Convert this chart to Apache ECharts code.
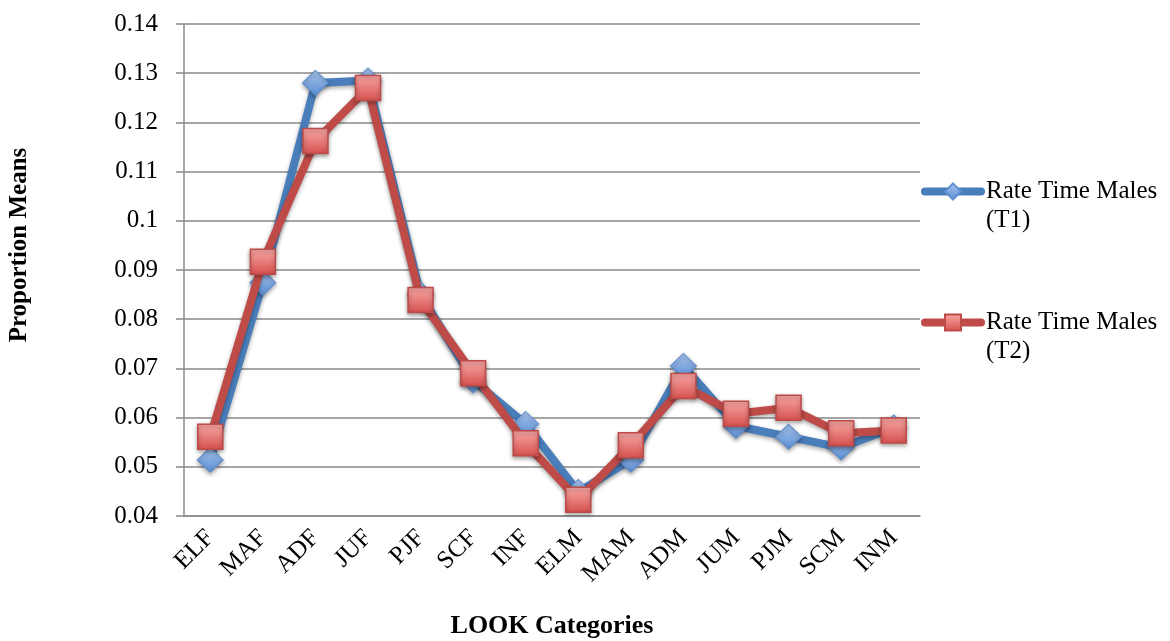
<!DOCTYPE html>
<html>
<head>
<meta charset="utf-8">
<script src="https://cdn.jsdelivr.net/npm/echarts@6/dist/echarts.min.js"></script>
<style>
  html, body { margin: 0; padding: 0; background: #fff; }
  #chart { width: 1170px; height: 641px; }
</style>
</head>
<body>
<div id="chart"></div>
<script>
// LOOK categories along the x axis
const categories = ['ELF', 'MAF', 'ADF', 'JUF', 'PJF', 'SCF', 'INF', 'ELM', 'MAM', 'ADM', 'JUM', 'PJM', 'SCM', 'INM'];

// Proportion means per category
const rateT1 = [0.0514, 0.0874, 0.1280, 0.1285, 0.0850, 0.0676, 0.0587, 0.0449, 0.0514, 0.0705, 0.0583, 0.0561, 0.0539, 0.0580];
const rateT2 = [0.0561, 0.0917, 0.1162, 0.1270, 0.0839, 0.0690, 0.0548, 0.0433, 0.0544, 0.0664, 0.0608, 0.0620, 0.0568, 0.0574];

const seriesNames = ['Rate Time Males (T1)', 'Rate Time Males (T2)'];

// y axis range
const yMin = 0.04, yMax = 0.14, yStep = 0.01;

const FONT = '"Liberation Serif", "Times New Roman", serif';
const GRID_GREY = '#8a8a8a';

const chart = echarts.init(document.getElementById('chart'), null, { renderer: 'canvas' });

const grad = (top, bottom) => new echarts.graphic.LinearGradient(0, 0, 0, 1, [
  { offset: 0, color: top },
  { offset: 1, color: bottom }
]);

chart.setOption({
  animation: false,
  backgroundColor: '#ffffff',
  grid: { left: 184, right: 250, top: 24, bottom: 125, containLabel: false, outerBoundsMode: 'none' },
  legend: {
    orient: 'vertical',
    left: 921,
    top: 148,
    padding: 0,
    itemGap: 44,
    itemWidth: 56,
    itemHeight: 20,
    data: seriesNames,
    lineStyle: { width: 8, cap: 'round' },
    // break the name onto two lines, keeping the icon level with the first line
    formatter: name => '\n' + name.replace(' (', '\n('),
    textStyle: { fontFamily: FONT, fontSize: 25, lineHeight: 29, color: '#000' }
  },
  xAxis: {
    type: 'category',
    data: categories,
    boundaryGap: true,
    name: 'LOOK Categories',
    nameLocation: 'middle',
    nameGap: 97,
    nameTextStyle: { fontFamily: FONT, fontSize: 26, fontWeight: 'bold', color: '#000' },
    axisLine: { show: true, lineStyle: { color: GRID_GREY, width: 1.5 } },
    axisTick: { show: false },
    axisLabel: { rotate: 45, margin: 18, fontFamily: FONT, fontSize: 25, color: '#000', interval: 0 }
  },
  yAxis: {
    type: 'value',
    min: yMin,
    max: yMax,
    interval: yStep,
    name: 'Proportion Means',
    nameLocation: 'middle',
    nameGap: 152,
    nameTextStyle: { fontFamily: FONT, fontSize: 25, fontWeight: 'bold', color: '#000', padding: [0, 0, 0, 50] },
    axisLine: { show: true, lineStyle: { color: GRID_GREY, width: 1.5 } },
    axisTick: { show: true, length: 8, lineStyle: { color: GRID_GREY, width: 1.5 } },
    splitLine: { show: true, lineStyle: { color: GRID_GREY, width: 1.5 } },
    axisLabel: {
      margin: 26,
      fontFamily: FONT,
      fontSize: 25,
      color: '#000',
      formatter: v => String(parseFloat(v.toFixed(2)))
    }
  },
  series: [
    {
      name: seriesNames[0],
      type: 'line',
      data: rateT1,
      symbol: 'diamond',
      symbolSize: [26, 25],
      z: 2,
      lineStyle: {
        color: '#4a7ebb', width: 8, cap: 'round', join: 'round',
        shadowColor: 'rgba(0,0,0,0.35)', shadowBlur: 4, shadowOffsetY: 2
      },
      itemStyle: {
        color: grad('#a9c6ee', '#5a8cd2'),
        borderColor: '#5f8fcf', borderWidth: 1,
        shadowColor: 'rgba(0,0,0,0.35)', shadowBlur: 4, shadowOffsetY: 2
      },
      emphasis: { disabled: true }
    },
    {
      name: seriesNames[1],
      type: 'line',
      data: rateT2,
      symbol: 'rect',
      symbolSize: 25,
      z: 3,
      lineStyle: {
        color: '#be4b48', width: 8, cap: 'round', join: 'round',
        shadowColor: 'rgba(0,0,0,0.35)', shadowBlur: 4, shadowOffsetY: 2
      },
      itemStyle: {
        color: grad('#f9a9a7', '#d5504d'),
        borderColor: '#be4b48', borderWidth: 1.5,
        shadowColor: 'rgba(0,0,0,0.35)', shadowBlur: 4, shadowOffsetY: 2
      },
      emphasis: { disabled: true }
    }
  ]
});
</script>
</body>
</html>
